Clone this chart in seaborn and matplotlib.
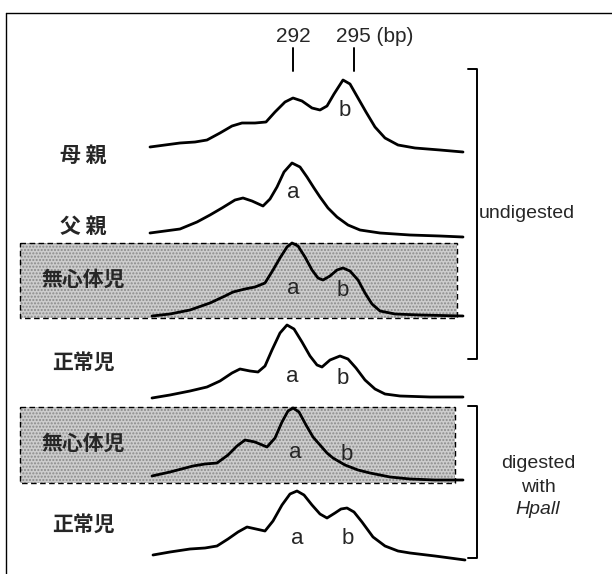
import numpy as np
import pandas as pd
import matplotlib
matplotlib.use('Agg')
import matplotlib.pyplot as plt
import seaborn as sns
from matplotlib.patches import Rectangle

# lane labels (left side)
lane_labels = ['母 親', '父 親', '無心体児', '正常児', '無心体児', '正常児']
lane_label_y = [155, 226, 279, 362, 443, 524]
shaded_lanes = [2, 4]

# traces: horizontal position and signal level (page units, y grows downward)
x_mother = [150, 165, 180, 195, 207, 220, 232, 242, 255, 266, 275, 285, 293, 302, 312, 320,
            327, 334, 343, 350, 358, 366, 375, 385, 398, 415, 440, 463]
y_mother = [147, 145, 143, 142, 140, 133, 126, 123, 123, 122, 112, 102, 98, 101, 108, 110,
            106, 94, 80, 84, 98, 112, 127, 138, 145, 148, 150, 152]

x_father = [150, 165, 180, 197, 210, 222, 235, 243, 252, 263, 270, 277, 284, 292, 300, 307,
            314, 320, 328, 337, 348, 360, 380, 410, 440, 463]
y_father = [233, 231, 229, 222, 215, 208, 200, 198, 201, 206, 199, 187, 172, 163, 167, 177,
            188, 197, 208, 217, 225, 230, 233, 235, 236, 237]

x_acard1 = [152, 170, 190, 210, 225, 233, 245, 255, 265, 273, 280, 287, 292, 298, 305, 312,
            318, 323, 330, 337, 343, 350, 358, 365, 372, 380, 395, 420, 463]
y_acard1 = [316, 314, 310, 303, 296, 292, 289, 287, 283, 270, 258, 247, 243, 246, 257, 270,
            278, 280, 276, 270, 268, 271, 280, 293, 304, 311, 314, 315, 316]

x_normal1 = [152, 170, 190, 207, 220, 232, 240, 250, 258, 265, 272, 280, 287, 294, 302, 310,
             317, 322, 330, 340, 348, 356, 365, 375, 385, 400, 430, 463]
y_normal1 = [398, 395, 391, 387, 381, 373, 369, 371, 372, 366, 350, 333, 325, 329, 342, 356,
             365, 367, 360, 356, 359, 368, 380, 389, 394, 396, 397, 397]

x_acard2 = [152, 170, 193, 205, 217, 228, 237, 245, 255, 267, 275, 282, 288, 293, 299, 306,
            313, 320, 327, 333, 345, 358, 370, 390, 410, 435, 463]
y_acard2 = [476, 472, 466, 464, 463, 455, 446, 440, 442, 447, 438, 422, 411, 408, 412, 425,
            437, 445, 453, 458, 465, 470, 473, 477, 479, 480, 480]

x_normal2 = [153, 170, 190, 205, 217, 228, 238, 247, 256, 265, 273, 282, 290, 297, 304, 312,
             320, 327, 335, 341, 347, 354, 362, 373, 385, 398, 410, 435, 465]
y_normal2 = [555, 552, 549, 548, 546, 539, 532, 527, 529, 531, 521, 505, 494, 491, 495, 505,
             514, 518, 513, 509, 508, 512, 522, 537, 546, 551, 553, 556, 560]

traces = [(x_mother, y_mother), (x_father, y_father), (x_acard1, y_acard1),
          (x_normal1, y_normal1), (x_acard2, y_acard2), (x_normal2, y_normal2)]

# allele labels under the peaks
peak_labels = [('b', 345, 111), ('a', 293, 193), ('a', 293, 289), ('b', 343, 290),
               ('a', 292, 377), ('b', 343, 378), ('a', 295, 453), ('b', 347, 455),
               ('a', 297, 538), ('b', 348, 538)]

size_marks = [('292', 293), ('295', 354)]

sns.set_theme(style='white')
plt.rcParams['font.family'] = ['Liberation Sans', 'Noto Sans CJK JP']

fig = plt.figure(figsize=(6.12, 5.74), dpi=100)
ax = fig.add_axes([0, 0, 1, 1])

# outer frame (top and left only)
ax.plot([6, 612], [13, 13], color='black', lw=1.0)
ax.plot([6, 6], [13, 574], color='black', lw=1.0)

# shaded boxes for the acardiac twin lanes
for top, bottom, right in [(243, 318, 457), (407, 483, 455)]:
    ax.add_patch(Rectangle((20, top), right - 20, bottom - top, facecolor='#cdcdcd',
                           edgecolor='#8a8a8a', hatch='.....', lw=0, zorder=1))
    ax.add_patch(Rectangle((20, top), right - 20, bottom - top, facecolor='none',
                           edgecolor='black', lw=1.0, ls=(0, (4, 2.5)), zorder=2))

for xs, ys in traces:
    df = pd.DataFrame({'x': xs, 'y': ys})
    sns.lineplot(data=df, x='x', y='y', ax=ax, color='black', lw=2.0, sort=False,
                 estimator=None, zorder=3)
    ax.lines[-1].set_solid_joinstyle('round')
    ax.lines[-1].set_solid_capstyle('round')

ax.set_xlim(0, 612)
ax.set_ylim(574, 0)
ax.axis('off')

for i, lab in enumerate(lane_labels):
    ax.text(83, lane_label_y[i], lab, ha='center', va='center', fontsize=15,
            family=['Noto Sans CJK JP'], weight='bold', zorder=4)

for t, x, y in peak_labels:
    ax.text(x, y, t, ha='center', va='center', fontsize=16, zorder=4)

# size markers at the top
for t, x in size_marks:
    ax.plot([x, x], [48, 71], color='black', lw=1.4)
ax.text(293, 36, '292', ha='center', va='center', fontsize=15)
ax.text(336, 36, '295 (bp)', ha='left', va='center', fontsize=15)

# brackets on the right
for top, bottom in [(69, 359), (406, 558)]:
    ax.plot([468, 477, 477, 468], [top, top, bottom, bottom], color='black', lw=1.4)

ax.text(479, 214, 'undigested', ha='left', va='center', fontsize=14)
ax.text(538, 463, 'digested', ha='center', va='center', fontsize=14)
ax.text(538, 487, 'with', ha='center', va='center', fontsize=14)
ax.text(538, 510, 'Hpall', ha='center', va='center', fontsize=14, style='italic')

fig.savefig('out.png', dpi=100)
